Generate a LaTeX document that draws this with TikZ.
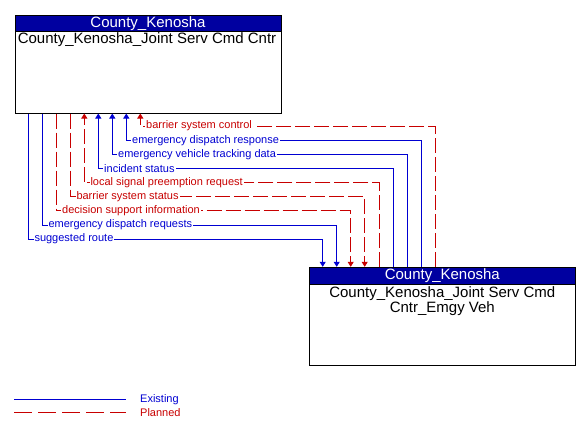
\documentclass[tikz,border=0pt]{standalone}
\usepackage{fontspec}
\setmainfont{Liberation Sans}
\usetikzlibrary{arrows.meta}
\definecolor{hdrblue}{RGB}{0,0,160}
\definecolor{exblue}{RGB}{0,0,210}
\definecolor{plred}{RGB}{200,0,0}
\tikzset{
  boxframe/.style={draw=black, line width=1pt, fill=white, inner sep=0pt},
  hdr/.style={draw=black, line width=1pt, fill=hdrblue, text=white, inner sep=0pt, font=\fontsize{15}{15}\selectfont},
  boxname/.style={inner sep=0pt, font=\fontsize{15}{15}\selectfont, align=center},
  tip/.style={-{Triangle[width=6pt,length=5pt]}},
  existing/.style={draw=exblue, line width=1pt},
  planned/.style={draw=plred, line width=1pt, dash pattern=on 15pt off 4pt},
  exlabel/.style={text=exblue, fill=white, inner xsep=1pt, inner ysep=0.5pt, anchor=west, font=\fontsize{11}{11}\selectfont},
  pllabel/.style={text=plred, fill=white, inner xsep=1pt, inner ysep=0.5pt, anchor=west, font=\fontsize{11}{11}\selectfont},
  legtext/.style={anchor=west, inner sep=0pt, font=\fontsize{11}{11}\selectfont}
}
\begin{document}
\begin{tikzpicture}[x=1pt,y=-1pt]
\useasboundingbox (0,0) rectangle (586,432);
% top box
\node[boxframe, minimum width=266pt, minimum height=98pt] (topbox) at (148,64) {};
\node[hdr, minimum width=266pt, minimum height=16.5pt] (tophdr) at (148,23.25) {County\_Kenosha};
\node[boxname] (topname) at (147,40) {County\_Kenosha\_Joint Serv Cmd Cntr};
% bottom box
\node[boxframe, minimum width=266pt, minimum height=98pt] (botbox) at (442.3,316.3) {};
\node[hdr, minimum width=266pt, minimum height=17pt] (bothdr) at (442.3,275.8) {County\_Kenosha};
\node[boxname] (botname) at (442.3,301) {County\_Kenosha\_Joint Serv Cmd\\[-0.5pt]Cntr\_Emgy Veh};
% connectors: into top box
\draw[planned, tip] (botbox.north -| 435.3,0) -- (435.3,126) -- (140.3,126) -- (topbox.south -| 140.3,0);
\node[pllabel] (l1) at (145,126) {barrier system control};
\draw[existing, tip] (botbox.north -| 421.3,0) -- (421.3,140.7) -- (126.3,140.7) -- (topbox.south -| 126.3,0);
\node[exlabel] (l2) at (131,140.7) {emergency dispatch response};
\draw[existing, tip] (botbox.north -| 407.3,0) -- (407.3,154.5) -- (112.3,154.5) -- (topbox.south -| 112.3,0);
\node[exlabel] (l3) at (117,154.5) {emergency vehicle tracking data};
\draw[existing, tip] (botbox.north -| 393.3,0) -- (393.3,168.7) -- (98.3,168.7) -- (topbox.south -| 98.3,0);
\node[exlabel] (l4) at (103,168.7) {incident status};
\draw[planned, tip] (botbox.north -| 379,0) -- (379,182.5) -- (84.3,182.5) -- (topbox.south -| 84.3,0);
\node[pllabel] (l5) at (89.3,182.5) {local signal preemption request};
% connectors: into bottom box
\draw[planned, tip] (topbox.south -| 70.3,0) -- (70.3,196.5) -- (364.7,196.5) -- (botbox.north -| 364.7,0);
\node[pllabel] (l6) at (75.3,196.5) {barrier system status};
\draw[planned, tip] (topbox.south -| 56.5,0) -- (56.5,210.5) -- (350.7,210.5) -- (botbox.north -| 350.7,0);
\node[pllabel] (l7) at (61,210.5) {decision support information};
\draw[existing, tip] (topbox.south -| 42.3,0) -- (42.3,225) -- (336.7,225) -- (botbox.north -| 336.7,0);
\node[exlabel] (l8) at (47.3,225) {emergency dispatch requests};
\draw[existing, tip] (topbox.south -| 28.3,0) -- (28.3,239) -- (322.7,239) -- (botbox.north -| 322.7,0);
\node[exlabel] (l9) at (33.3,239) {suggested route};
% legend
\coordinate (lex1) at (14,399.3);
\coordinate (lex2) at (125.7,399.3);
\coordinate (lpl1) at (14,412.3);
\coordinate (lpl2) at (125.7,412.3);
\draw[existing] (lex1) -- (lex2);
\draw[draw=plred, line width=1pt, dash pattern=on 17.7pt off 6.3pt] (lpl1) -- (lpl2);
\node[legtext, text=exblue] (legex) at (140,399.3) {Existing};
\node[legtext, text=plred] (legpl) at (140,412.3) {Planned};
\end{tikzpicture}
\end{document}
